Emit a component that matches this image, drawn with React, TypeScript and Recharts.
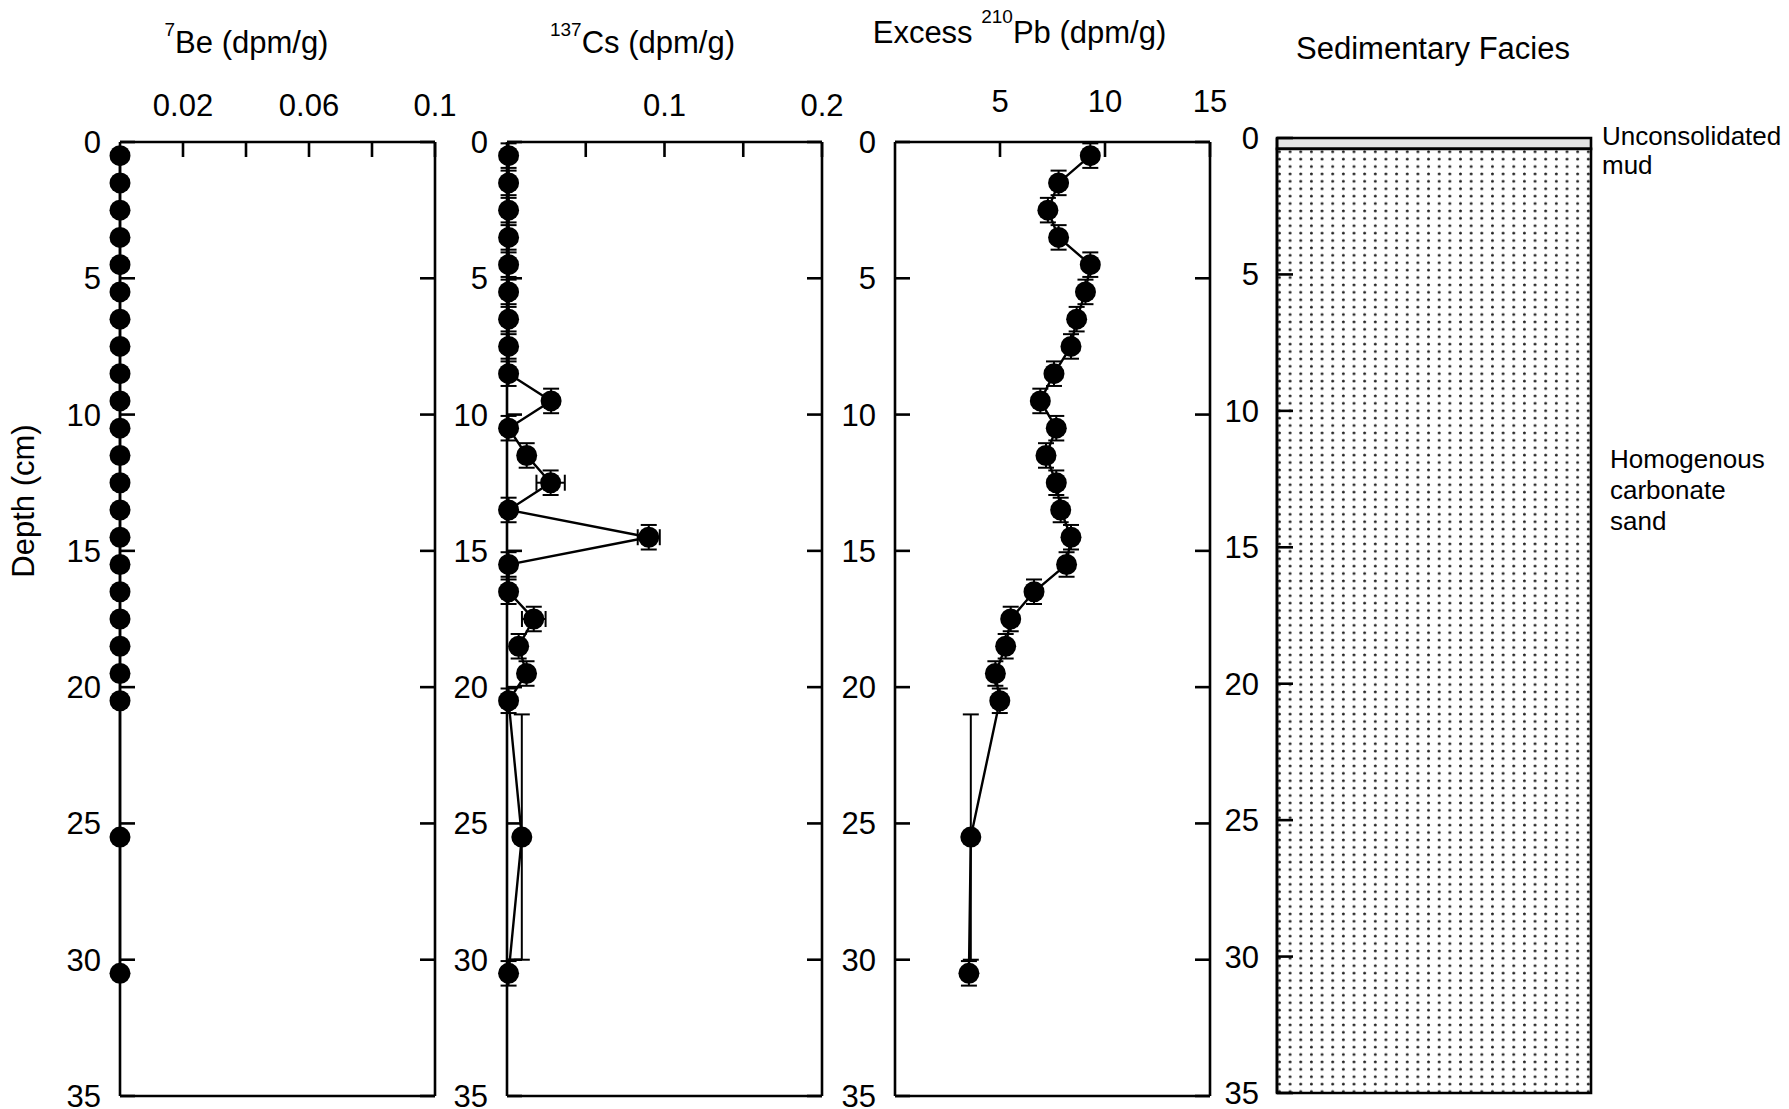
import React from "react";
import {
  ScatterChart,
  Scatter,
  XAxis,
  YAxis,
  ErrorBar,
  ReferenceArea,
  ReferenceLine,
} from "recharts";

// sample mid-depths (cm) and half-thickness of each sampled interval
const depths = [
  0.5, 1.5, 2.5, 3.5, 4.5, 5.5, 6.5, 7.5, 8.5, 9.5, 10.5, 11.5, 12.5, 13.5,
  14.5, 15.5, 16.5, 17.5, 18.5, 19.5, 20.5, 25.5, 30.5,
];
const depthErr = [
  0.45, 0.45, 0.45, 0.45, 0.45, 0.45, 0.45, 0.45, 0.45, 0.45, 0.45, 0.45,
  0.45, 0.45, 0.45, 0.45, 0.45, 0.45, 0.45, 0.45, 0.45, 4.5, 0.45,
];

// 7Be activity (dpm/g)
const beValues = [
  0, 0, 0, 0, 0, 0, 0, 0, 0, 0, 0, 0, 0, 0, 0, 0, 0, 0, 0, 0, 0, 0, 0,
];

// 137Cs activity (dpm/g) and its counting error
const csValues = [
  0.001, 0.001, 0.001, 0.001, 0.001, 0.001, 0.001, 0.001, 0.001, 0.028, 0.001,
  0.0125, 0.0277, 0.001, 0.09, 0.001, 0.001, 0.017, 0.0074, 0.0124, 0.001,
  0.0094, 0.001,
];
const csErr = [
  0, 0, 0, 0, 0, 0, 0, 0, 0, 0, 0, 0, 0.009, 0, 0.007, 0, 0, 0.0075, 0, 0, 0,
  0, 0,
];

// excess 210Pb activity (dpm/g)
const pbValues = [
  9.3, 7.79, 7.28, 7.79, 9.3, 9.07, 8.65, 8.38, 7.57, 6.92, 7.68, 7.19, 7.68,
  7.89, 8.38, 8.17, 6.62, 5.51, 5.27, 4.78, 4.99, 3.61, 3.52,
];

const depthTicks = [0, 5, 10, 15, 20, 25, 30, 35];
const beTicks = [0.02, 0.04, 0.06, 0.08, 0.1];
const beTickLabels = ["0.02", "", "0.06", "", "0.1"];
const csTicks = [0.05, 0.1, 0.15, 0.2];
const csTickLabels = ["", "0.1", "", "0.2"];
const pbTicks = [5, 10, 15];
const pbTickLabels = ["5", "10", "15"];

// core log units
const faciesLines = [["Unconsolidated", "mud"], ["Homogenous", "carbonate", "sand"]];
const faciesTop = [0, 0.4];
const faciesBase = [0.4, 35];
const faciesLabelDepth = [0.45, 12.9];
const faciesFill = ["#e3e3e3", "url(#sand-dots)"];

const FONT = "'Liberation Sans', Arial, Helvetica, sans-serif";
const CH = 1109;
const PLOT_TOP = 142;
const PLOT_BOTTOM = 1096;
const PW = 315;
const ML = 120;
const MR = 40;

const axisLine = { stroke: "#000", strokeWidth: 2.6 };
const tickStyle = { fontSize: 31, fontFamily: FONT, fill: "#000" };

const makeRows = (values: number[], xErr?: number[]) =>
  depths.map((d, i) => ({
    depth: d,
    value: values[i],
    dDepth: depthErr[i],
    dValue: xErr ? xErr[i] : 0,
  }));

const FilledCircle = (props: any) => (
  <circle cx={props.cx} cy={props.cy} r={10.5} fill="#000" />
);

function titleContent(
  prefix: string,
  sup: string,
  rest: string,
  dx: number,
  above: number,
  rise: number
) {
  return (props: any) => {
    const vb = props.viewBox;
    return (
      <text
        x={vb.x + vb.width / 2 + dx}
        y={vb.y + vb.height - above}
        textAnchor="middle"
        fontFamily={FONT}
        fontSize={31}
        fill="#000"
      >
        {prefix ? <tspan>{prefix}</tspan> : null}
        <tspan fontSize={19} dy={-rise}>
          {sup}
        </tspan>
        <tspan dy={rise}>{rest}</tspan>
      </text>
    );
  };
}

const depthLabel = (props: any) => {
  const vb = props.viewBox;
  const x = vb.x + vb.width - 86;
  const y = vb.y + 359;
  return (
    <text
      x={x}
      y={y}
      transform={`rotate(-90, ${x}, ${y})`}
      textAnchor="middle"
      fontFamily={FONT}
      fontSize={31}
      fill="#000"
    >
      Depth (cm)
    </text>
  );
};

interface PanelProps {
  plotLeft: number;
  domain: [number, number];
  ticks: number[];
  tickLabels: string[];
  rows: any[];
  title: (props: any) => React.ReactElement;
  labelMargin?: number;
  withErrors?: boolean;
  withDepthLabel?: boolean;
}

// axes are 1px thick so that recharts draws them; margins absorb that pixel
function ProfilePanel({
  plotLeft,
  domain,
  ticks,
  tickLabels,
  rows,
  title,
  labelMargin = 41,
  withErrors = true,
  withDepthLabel = false,
}: PanelProps) {
  const fmt = (v: number) => tickLabels[ticks.indexOf(v)] ?? "";
  return (
    <div style={{ position: "absolute", left: plotLeft - ML, top: 0 }}>
      <ScatterChart
        width={ML + PW + MR}
        height={CH}
        margin={{
          top: PLOT_TOP - 1,
          bottom: CH - PLOT_BOTTOM - 1,
          left: ML - 1,
          right: MR - 1,
        }}
      >
        <XAxis
          xAxisId="t"
          orientation="top"
          type="number"
          dataKey="value"
          domain={domain}
          ticks={ticks}
          interval={0}
          tickFormatter={fmt}
          height={1}
          tickSize={-15}
          tickMargin={labelMargin}
          axisLine={axisLine}
          tickLine={axisLine}
          tick={tickStyle}
          label={{ content: title }}
        />
        <XAxis
          xAxisId="b"
          orientation="bottom"
          type="number"
          domain={domain}
          allowDataOverflow
          ticks={ticks}
          interval={0}
          tickFormatter={() => ""}
          height={1}
          tickSize={-15}
          axisLine={axisLine}
          tickLine={axisLine}
        />
        <YAxis
          yAxisId="l"
          type="number"
          dataKey="depth"
          domain={[0, 35]}
          reversed
          ticks={depthTicks}
          interval={0}
          width={1}
          tickSize={-15}
          tickMargin={34}
          axisLine={axisLine}
          tickLine={axisLine}
          tick={tickStyle}
          label={withDepthLabel ? { content: depthLabel } : undefined}
        />
        <YAxis
          yAxisId="r"
          orientation="right"
          type="number"
          domain={[0, 35]}
          allowDataOverflow
          reversed
          ticks={depthTicks}
          interval={0}
          tickFormatter={() => ""}
          width={1}
          tickSize={-15}
          axisLine={axisLine}
          tickLine={axisLine}
        />
        <Scatter
          data={rows}
          xAxisId="t"
          yAxisId="l"
          fill="#000"
          line={{ stroke: "#000", strokeWidth: 2.4 }}
          shape={FilledCircle}
          isAnimationActive={false}
        >
          {withErrors ? (
            <ErrorBar
              dataKey="dDepth"
              direction="y"
              width={8}
              stroke="#000"
              strokeWidth={2}
            />
          ) : null}
          {withErrors ? (
            <ErrorBar
              dataKey="dValue"
              direction="x"
              width={8}
              stroke="#000"
              strokeWidth={2}
            />
          ) : null}
        </Scatter>
      </ScatterChart>
    </div>
  );
}

const faciesLabel = (lines: string[]) => (props: any) => {
  const vb = props.viewBox;
  const x = vb.x + vb.width + (lines.length > 2 ? 19 : 11);
  const lh = lines.length > 2 ? 31 : 29;
  return (
    <text fontFamily={FONT} fontSize={26} fill="#000">
      {lines.map((s, i) => (
        <tspan key={s} x={x} y={vb.y + (i - (lines.length - 1) / 2) * lh + 9}>
          {s}
        </tspan>
      ))}
    </text>
  );
};

const faciesTitle = (props: any) => {
  const vb = props.viewBox;
  return (
    <text
      x={vb.x + vb.width / 2 - 1}
      y={vb.y + vb.height - 79}
      textAnchor="middle"
      fontFamily={FONT}
      fontSize={31}
      fill="#000"
    >
      Sedimentary Facies
    </text>
  );
};

// a single invisible anchor row keeps the chart's axes populated
const faciesAnchor = [{ x: 0, depth: 0 }];

function FaciesPanel() {
  const top = 138;
  const bottom = 1093;
  const left = 1277;
  const width = 314;
  const chartW = 1789 - (left - ML);
  return (
    <div style={{ position: "absolute", left: left - ML, top: 0 }}>
      <ScatterChart
        width={chartW}
        height={CH}
        margin={{
          top: top - 1,
          bottom: CH - bottom,
          left: ML - 1,
          right: chartW - ML - width,
        }}
      >
        <XAxis
          xAxisId="t"
          orientation="top"
          type="number"
          dataKey="x"
          domain={[0, 1]}
          height={1}
          axisLine={false}
          tickLine={false}
          tick={false}
          label={{ content: faciesTitle }}
        />
        <YAxis
          yAxisId="l"
          type="number"
          dataKey="depth"
          domain={[0, 35]}
          reversed
          ticks={depthTicks}
          interval={0}
          width={1}
          tickSize={-16}
          tickMargin={34}
          axisLine={axisLine}
          tickLine={axisLine}
          tick={tickStyle}
        />
        {faciesLines.map((lines, i) => (
          <ReferenceArea
            key={lines.join(" ")}
            xAxisId="t"
            yAxisId="l"
            y1={faciesTop[i]}
            y2={faciesBase[i]}
            fill={faciesFill[i]}
            fillOpacity={1}
            stroke="#000"
            strokeWidth={2.6}
          />
        ))}
        {faciesLines.map((lines, i) => (
          <ReferenceLine
            key={"l" + i}
            xAxisId="t"
            yAxisId="l"
            y={faciesLabelDepth[i]}
            stroke="none"
            label={{ content: faciesLabel(lines) }}
          />
        ))}
        <Scatter
          data={faciesAnchor}
          xAxisId="t"
          yAxisId="l"
          shape={() => null}
          isAnimationActive={false}
        />
      </ScatterChart>
    </div>
  );
}

export default function App() {
  return (
    <div
      style={{
        position: "absolute",
        left: 0,
        top: 0,
        width: 1789,
        height: 1109,
        overflow: "hidden",
        background: "#fff",
      }}
    >
      <svg width={0} height={0} style={{ position: "absolute" }}>
        <defs>
          <pattern
            id="sand-dots"
            width={10.65}
            height={7.4}
            patternUnits="userSpaceOnUse"
          >
            <rect width={10.65} height={7.4} fill="#fff" />
            <circle cx={5.3} cy={3.7} r={1.5} fill="#222" />
          </pattern>
        </defs>
      </svg>
      <ProfilePanel
        plotLeft={120}
        domain={[0, 0.1]}
        ticks={beTicks}
        tickLabels={beTickLabels}
        rows={makeRows(beValues)}
        title={titleContent("", "7", "Be (dpm/g)", -31, 89, 17)}
        withErrors={false}
        withDepthLabel
      />
      <ProfilePanel
        plotLeft={507}
        domain={[0, 0.2]}
        ticks={csTicks}
        tickLabels={csTickLabels}
        rows={makeRows(csValues, csErr)}
        title={titleContent("", "137", "Cs (dpm/g)", -22, 89, 17)}
      />
      <ProfilePanel
        plotLeft={895}
        domain={[0, 15]}
        ticks={pbTicks}
        tickLabels={pbTickLabels}
        rows={makeRows(pbValues)}
        title={titleContent("Excess ", "210", "Pb (dpm/g)", -33, 99, 20)}
        labelMargin={45}
      />
      <FaciesPanel />
    </div>
  );
}
